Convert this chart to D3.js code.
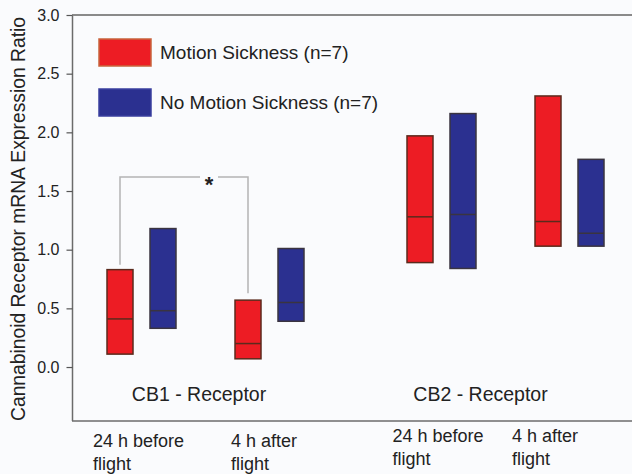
<!DOCTYPE html>
<html>
<head>
<meta charset="utf-8">
<script src="https://cdn.jsdelivr.net/npm/d3@7"></script>
<style>
  body { margin: 0; background: #fafbfd; }
  text { font-family: "Liberation Sans", Arial, sans-serif; fill: #222; }
</style>
</head>
<body>
<div id="chart"></div>
<script>
// DATA
const receptors = ["CB1", "CB2"];
const receptorLabels = ["CB1 - Receptor", "CB2 - Receptor"];
const times = ["24 h before", "4 h after"];
const groups = ["Motion Sickness (n=7)", "No Motion Sickness (n=7)"];
const yTicks = [0, 0.5, 1.0, 1.5, 2.0, 2.5, 3.0];

// order: CB1 24h, CB1 4h, CB2 24h, CB2 4h
const msLow = [0.11, 0.07, 0.89, 1.03];
const msMedian = [0.41, 0.20, 1.28, 1.24];
const msHigh = [0.83, 0.57, 1.97, 2.31];

const nmsLow = [0.33, 0.39, 0.84, 1.03];
const nmsMedian = [0.48, 0.55, 1.30, 1.14];
const nmsHigh = [1.18, 1.01, 2.16, 1.77];

const sigLevel = 1.62;

// SVG AND D3 STUFF
const W = 632, H = 474;
const svg = d3.select("#chart")
    .append("svg")
    .attr("width", W)
    .attr("height", H);

const yScale = d3.scaleLinear()
    .domain([-0.46, 3.0])
    .range([421, 15]);

const xReceptor = d3.scalePoint().domain(receptors).range([205.5, 505.5]);
const xTime = d3.scalePoint().domain(times).range([-64, 64]);
const xGroup = d3.scalePoint().domain(groups).range([-21.5, 21.5]);
const boxW = 26;

const colors = {};
colors[groups[0]] = { fill: "#ed1c24", stroke: "#5b2a1c" };
colors[groups[1]] = { fill: "#2b3090", stroke: "#3a3440" };

// build box records
const boxes = [];
receptors.forEach(function (r, ri) {
    times.forEach(function (t, ti) {
        const i = ri * 2 + ti;
        boxes.push({ r: r, t: t, g: groups[0], lo: msLow[i], med: msMedian[i], hi: msHigh[i] });
        boxes.push({ r: r, t: t, g: groups[1], lo: nmsLow[i], med: nmsMedian[i], hi: nmsHigh[i] });
    });
});
function cx(d) { return xReceptor(d.r) + xTime(d.t) + xGroup(d.g); }

// Frame lines
const frame = svg.append("g").attr("stroke", "#6b6b6b").attr("stroke-width", 1.5);
frame.append("line").attr("x1", 72.5).attr("x2", 72.5).attr("y1", yScale.range()[1]).attr("y2", yScale.range()[0]);
frame.append("line").attr("x1", 72).attr("x2", W).attr("y1", yScale.range()[1]).attr("y2", yScale.range()[1]).attr("stroke", "#8a8a8a").attr("stroke-width", 2);
frame.append("line").attr("x1", 72).attr("x2", W).attr("y1", yScale.range()[0]).attr("y2", yScale.range()[0]);

// Y axis
const yAxis = svg.append("g")
    .attr("transform", "translate(72.5,0)")
    .call(d3.axisLeft(yScale).tickValues(yTicks).tickSize(6).tickPadding(7).tickFormat(d3.format(".1f")));
yAxis.select(".domain").remove();
yAxis.selectAll(".tick line").attr("stroke", "#555").attr("stroke-width", 1.2);
yAxis.selectAll(".tick text").style("font-size", "16px").attr("fill", "#333");

// Y label
svg.append("text")
    .attr("transform", "translate(25,219)rotate(-90)")
    .attr("text-anchor", "middle")
    .style("font-size", "19.3px")
    .attr("fill", "#333")
    .text("Cannabinoid Receptor mRNA Expression Ratio");

// significance bracket (behind boxes)
const ms = boxes.filter(function (d) { return d.r === "CB1" && d.g === groups[0]; });
const ySig = yScale(sigLevel);
const br = svg.append("g").attr("stroke", "#b4b4b4").attr("stroke-width", 1.5).attr("fill", "none");
br.append("path").attr("d", "M" + cx(ms[0]) + "," + (yScale(ms[0].hi) - 5) + "V" + ySig + "H" + (cx(ms[0]) + 80));
br.append("path").attr("d", "M" + (cx(ms[1]) - 30) + "," + ySig + "H" + cx(ms[1]) + "V" + (yScale(ms[1].hi) - 7));
svg.append("text")
    .attr("x", cx(ms[0]) + 89)
    .attr("y", ySig + 15)
    .attr("text-anchor", "middle")
    .style("font-size", "22px")
    .style("font-weight", "bold")
    .text("*");

// Boxes
const bx = svg.append("g").selectAll("g.box")
    .data(boxes)
    .enter().append("g").attr("class", "box");

bx.append("rect")
    .attr("x", function (d) { return cx(d) - boxW / 2; })
    .attr("y", function (d) { return yScale(d.hi); })
    .attr("width", boxW)
    .attr("height", function (d) { return yScale(d.lo) - yScale(d.hi); })
    .attr("fill", function (d) { return colors[d.g].fill; })
    .attr("stroke", function (d) { return colors[d.g].stroke; })
    .attr("stroke-width", 1.5);

bx.append("line")
    .attr("x1", function (d) { return cx(d) - boxW / 2; })
    .attr("x2", function (d) { return cx(d) + boxW / 2; })
    .attr("y1", function (d) { return yScale(d.med); })
    .attr("y2", function (d) { return yScale(d.med); })
    .attr("stroke", function (d) { return colors[d.g].stroke; })
    .attr("stroke-width", 1.5);

// Legend
const leg = svg.append("g").selectAll("g")
    .data(groups)
    .enter().append("g")
    .attr("transform", function (d, i) { return "translate(99," + (39 + i * 50) + ")"; });
leg.append("rect")
    .attr("width", 52).attr("height", 27)
    .attr("fill", function (d) { return colors[d].fill; })
    .attr("stroke", function (d, i) { return i === 0 ? "#c8643c" : "#3a3f9e"; })
    .attr("stroke-width", 1.5);
leg.append("text")
    .attr("x", 61).attr("y", 20)
    .style("font-size", "19px")
    .text(function (d) { return d; });

// Receptor labels
const recOffset = [-6.5, -25];
svg.selectAll("text.rec")
    .data(receptors)
    .enter().append("text")
    .attr("class", "rec")
    .attr("x", function (d, i) { return xReceptor(d) + recOffset[i]; })
    .attr("y", 401)
    .attr("text-anchor", "middle")
    .style("font-size", "19.5px")
    .text(function (d, i) { return receptorLabels[i]; });

// Time labels under the frame
const timeDx = { "CB1": [-48.5, -38.5], "CB2": [-49, -57.5] };
const timeDy = { "CB1": 0, "CB2": -5 };
receptors.forEach(function (r) {
    times.forEach(function (t, ti) {
        const x = xReceptor(r) + xTime(t) + timeDx[r][ti];
        const lbl = svg.append("text")
            .attr("x", x)
            .attr("y", 447 + timeDy[r])
            .style("font-size", "18px");
        lbl.append("tspan").attr("x", x).text(t);
        lbl.append("tspan").attr("x", x).attr("dy", 23).text("flight");
    });
});
</script>
</body>
</html>
